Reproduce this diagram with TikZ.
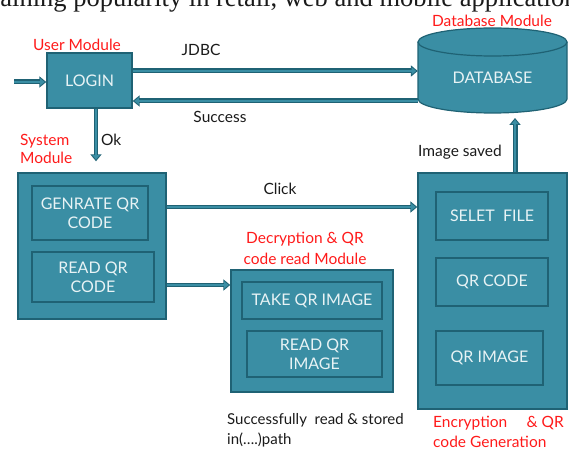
\documentclass[tikz,border=0pt]{standalone}
\usepackage{fontspec}
\setmainfont{Lato}
\newfontfamily\serifface{Liberation Serif}
\usetikzlibrary{arrows.meta,calc}

\definecolor{boxfill}{HTML}{3A8EA4}
\definecolor{boxedge}{HTML}{1F6274}
\definecolor{boxtext}{HTML}{E8F3F5}
\definecolor{modred}{HTML}{FF1A1A}
\definecolor{inkblack}{HTML}{1A1A1A}

\tikzset{
  outerbox/.style={draw=boxedge, fill=boxfill, line width=1.4pt, inner sep=0pt},
  innerbox/.style={draw=boxedge, fill=boxfill, line width=1.4pt, inner sep=0pt,
    text=boxtext, align=center, font=\fontsize{16}{19}\selectfont},
  modlabel/.style={text=modred, font=\fontsize{15.5}{19}\selectfont, inner sep=0pt},
  flowlabel/.style={text=inkblack, font=\fontsize{15.5}{19}\selectfont, inner sep=0pt},
  pipe/.style={line width=5pt, draw=boxedge, -{Triangle[length=7pt,width=11pt]}},
  pipecore/.style={line width=2.6pt, draw=boxfill, shorten >=1.6pt,
    -{Triangle[length=4.6pt,width=7pt]}},
  pipeplain/.style={line width=5pt, draw=boxedge}
}

\begin{document}
\begin{tikzpicture}[x=1pt,y=1pt]
\useasboundingbox (0,0) rectangle (569,450);

% running text of the page above the figure
\begin{scope}
  \clip (0,0) rectangle (569,450);
  \node[anchor=base west, inner sep=0pt, text=inkblack,
        font=\serifface\fontsize{26.5}{28}\selectfont] (pagetext) at (-13,443)
        {gaining popularity in retail, web and mobile applications};
\end{scope}

% user module
\node[outerbox, minimum width=85pt, minimum height=55pt, text=boxtext,
      font=\fontsize{16}{19}\selectfont] (login) at (89.5,369.5) {LOGIN};
\node[modlabel] (usermod) at (77,405) {User Module};

% database
\node[minimum width=149pt, minimum height=85pt, inner sep=0pt] (db) at (492.5,379.5) {};
\fill[boxfill] (418,408) -- (418,351) arc[start angle=180, end angle=360,
      x radius=74.5pt, y radius=14pt] -- (567,408) arc[start angle=0, end angle=180,
      x radius=74.5pt, y radius=14pt] -- cycle;
\draw[boxedge, line width=1.2pt] (418,408) -- (418,351) arc[start angle=180, end angle=360,
      x radius=74.5pt, y radius=14pt] -- (567,408);
\draw[boxedge, line width=1.2pt] (492.5,408) ellipse [x radius=74.5pt, y radius=14pt];
\node[text=boxtext, font=\fontsize{16}{19}\selectfont, inner sep=0pt] (dbtext)
      at (492.5,372) {DATABASE};
\node[modlabel] (dbmod) at (492,429) {Database Module};

% system module
\node[outerbox, minimum width=148pt, minimum height=146pt] (sys) at (92,204) {};
\node[innerbox, minimum width=116pt, minimum height=54pt] (gen) at (90,237)
      {GENRATE QR\\CODE};
\node[innerbox, minimum width=122pt, minimum height=50pt] (rdqr) at (93,173)
      {READ QR\\CODE};
\node[modlabel, anchor=west, align=left,
      font=\fontsize{15.5}{18}\selectfont] (sysmod) at (20,301) {System\\Module};

% decryption and QR read module
\node[outerbox, minimum width=162pt, minimum height=122pt] (dec) at (312,119) {};
\node[innerbox, minimum width=140pt, minimum height=37pt] (take) at (312,149.5)
      {TAKE QR IMAGE};
\node[innerbox, minimum width=135pt, minimum height=46pt] (rdimg) at (314.5,96)
      {READ QR\\IMAGE};
\node[modlabel, align=center, font=\fontsize{15.5}{21}\selectfont] (decmod)
      at (305,201.5) {Decryption \& QR\\code read Module};
\node[flowlabel, anchor=west, align=left, font=\fontsize{15}{20}\selectfont]
      (stored) at (227,20) {Successfully~ read \& stored\\in(\dots.)path};

% encryption and QR generation module
\node[outerbox, minimum width=149pt, minimum height=236pt] (enc) at (492.5,159) {};
\node[innerbox, minimum width=112pt, minimum height=48pt] (selet) at (492,234)
      {SELET~ FILE};
\node[innerbox, minimum width=112pt, minimum height=48pt] (qrcode) at (492,168)
      {QR CODE};
\node[innerbox, minimum width=107pt, minimum height=54pt] (qrimg) at (489.5,92)
      {QR IMAGE};
\node[modlabel, anchor=west, align=left, font=\fontsize{15.5}{20}\selectfont]
      (encmod) at (433,18) {Encryption \quad\& QR\\code Generation};

% connectors
\coordinate (entry) at (14,368);
\draw[pipe] (entry) -- (entry -| login.west);
\draw[pipecore] (entry) -- (entry -| login.west);

\draw[pipe] ([yshift=9.5pt]login.east) -- ([yshift=9.5pt]login.east -| db.west);
\draw[pipecore] ([yshift=9.5pt]login.east) -- ([yshift=9.5pt]login.east -| db.west);
\node[flowlabel] (jdbc) at (201,400) {JDBC};

\draw[pipeplain] ([yshift=-20.5pt]login.east -| db.west) -- ([xshift=-1pt]db.west |- 0,349);
\draw[pipe] ([yshift=-20.5pt]login.east -| db.west) -- ([yshift=-20.5pt]login.east);
\draw[pipecore] ([yshift=-20.5pt]login.east -| db.west) -- ([yshift=-20.5pt]login.east);
\node[flowlabel] (success) at (220,333) {Success};

\draw[pipe, line width=4pt] ([xshift=6.5pt]login.south) -- ([xshift=6.5pt,yshift=11pt]login.south |- sys.north);
\draw[pipecore, line width=2pt] ([xshift=6.5pt]login.south) -- ([xshift=6.5pt,yshift=11pt]login.south |- sys.north);
\node[flowlabel, anchor=west] (ok) at (101,310) {Ok};

\draw[pipe, line width=4pt] ([yshift=39pt]sys.east) -- ([yshift=39pt]sys.east -| enc.west);
\draw[pipecore, line width=2pt] ([yshift=39pt]sys.east) -- ([yshift=39pt]sys.east -| enc.west);
\node[flowlabel] (click) at (280,261) {Click};

\draw[pipe, line width=4pt] ([yshift=-39pt]sys.east) -- ([yshift=-39pt]sys.east -| dec.west);
\draw[pipecore, line width=2pt] ([yshift=-39pt]sys.east) -- ([yshift=-39pt]sys.east -| dec.west);

\draw[pipe] ([xshift=22.5pt]enc.north) -- ([xshift=22.5pt]enc.north |- 0,332);
\draw[pipecore] ([xshift=22.5pt]enc.north) -- ([xshift=22.5pt]enc.north |- 0,332);
\node[flowlabel] (saved) at (460,298) {Image saved};
\end{tikzpicture}
\end{document}
